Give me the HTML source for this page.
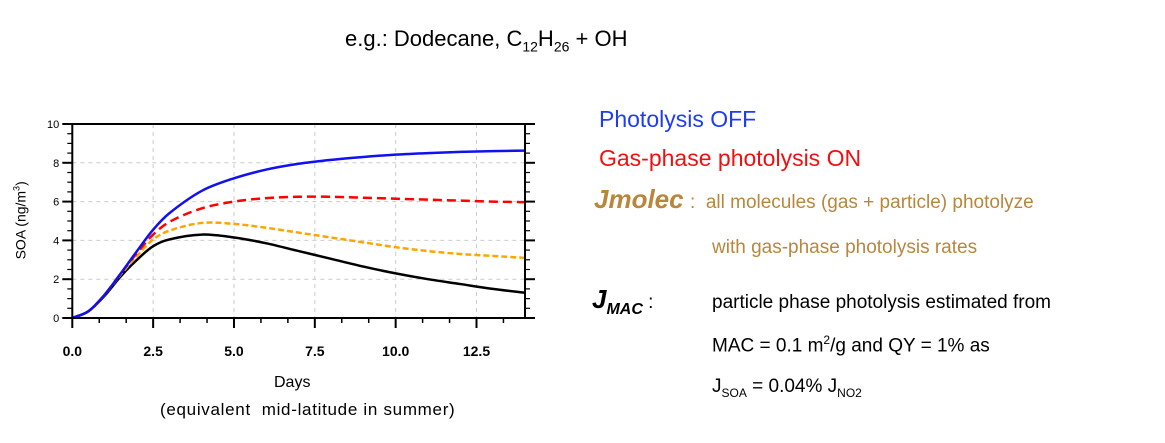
<!DOCTYPE html>
<html><head><meta charset="utf-8"><style>
body{margin:0;background:#fff;width:1165px;height:443px;overflow:hidden;font-family:"Liberation Sans",sans-serif;position:relative}
.t{position:absolute;white-space:nowrap}
</style></head><body>
<div class="t" style="left:345px;top:26px;font-size:22px">e.g.: Dodecane, C<sub style="font-size:14px">12</sub>H<sub style="font-size:14px">26</sub> + OH</div>
<div class="t" style="left:599px;top:106px;font-size:23px;color:#1f3cf5">Photolysis OFF</div>
<div class="t" style="left:599px;top:145px;font-size:23px;color:#f01010">Gas-phase photolysis ON</div>
<div class="t" style="left:594px;top:184px;font-size:26px;color:#b8873c;font-weight:bold;font-style:italic">Jmolec</div>
<div class="t" style="left:690px;top:192px;font-size:19px;color:#b8873c">:&nbsp; all molecules (gas + particle) photolyze</div>
<div class="t" style="left:712px;top:237px;font-size:19px;color:#b8873c">with gas-phase photolysis rates</div>
<div class="t" style="left:592px;top:284px;font-size:26px;font-weight:bold;font-style:italic">J<sub style="font-size:16px">MAC</sub><span style="font-weight:normal;font-style:normal;font-size:19px"> :</span></div>
<div class="t" style="left:712px;top:292px;font-size:19px">particle phase photolysis estimated from</div>
<div class="t" style="left:712px;top:333px;font-size:19px">MAC = 0.1 m<sup style="font-size:12px">2</sup>/g and QY = 1% as</div>
<div class="t" style="left:712px;top:376px;font-size:19px">J<sub style="font-size:12px">SOA</sub> = 0.04% J<sub style="font-size:12px">NO2</sub></div>
<svg id="c" width="1165" height="443" style="position:absolute;left:0;top:0"></svg>
<script>
const days=[0,0.5,1,1.5,2,2.5,3,4,5,6,7,8,9,10,11,12,13,14];
const blueOff=[0,0.35,1.2,2.3,3.45,4.55,5.4,6.55,7.2,7.65,7.95,8.15,8.3,8.42,8.5,8.56,8.6,8.63];
const redGas=[0,0.35,1.2,2.3,3.35,4.3,4.95,5.65,6.0,6.18,6.25,6.25,6.2,6.15,6.1,6.05,6.0,5.97];
const orangeJmolec=[0,0.35,1.2,2.25,3.2,4.05,4.5,4.9,4.85,4.65,4.4,4.15,3.9,3.65,3.45,3.3,3.2,3.1];
const blackJmac=[0,0.35,1.15,2.15,3.0,3.7,4.05,4.3,4.15,3.85,3.45,3.05,2.65,2.3,2.0,1.75,1.5,1.3];
const xTicks=[0,2.5,5,7.5,10,12.5];
const xTickLabels=["0.0","2.5","5.0","7.5","10.0","12.5"];
const yTicks=[0,2,4,6,8,10];
const L=72.3,R=525,T=124,B=318,XMAX=14,YMAX=10;
const X=v=>L+v/XMAX*(R-L), Y=v=>B-v/YMAX*(B-T);
const svg=document.getElementById('c');const NS='http://www.w3.org/2000/svg';
function mk(tag,a,p){const e=document.createElementNS(NS,tag);for(const k in a)e.setAttribute(k,a[k]);(p||svg).appendChild(e);return e;}
xTicks.slice(1).forEach(t=>{const g=mk('line',{x1:X(t),x2:X(t),y1:T,y2:B,stroke:'#ccc','stroke-dasharray':'4,4'});

});
yTicks.slice(1,-1).forEach(t=>{const g=mk('line',{x1:L,x2:R,y1:Y(t),y2:Y(t),stroke:'#ccc','stroke-dasharray':'4,4'});

});
function path(vals){const p=days.map((d,i)=>[X(d),Y(vals[i])]);let s='M'+p[0][0]+','+p[0][1];
for(let i=0;i<p.length-1;i++){const p0=p[i-1]||p[i],p1=p[i],p2=p[i+1],p3=p[i+2]||p2;
const h=p2[0]-p1[0];
const m1=(p2[1]-p0[1])/(p2[0]-p0[0]||1),m2=(p3[1]-p1[1])/(p3[0]-p1[0]||1);
s+=` C${p1[0]+h/3},${p1[1]+m1*h/3} ${p2[0]-h/3},${p2[1]-m2*h/3} ${p2[0]},${p2[1]}`;}return s;}
const series=[[blackJmac,'#000','','line-jmac'],[orangeJmolec,'#ffa500','6,3','line-jmolec'],[redGas,'#f00','9,5','line-gas-phase-on'],[blueOff,'#1010f0','','line-photolysis-off']];
series.forEach(s=>{const e=mk('path',{d:path(s[0]),fill:'none',stroke:s[1],'stroke-width':2.5,'stroke-dasharray':s[2]||'none'});

});
mk('rect',{x:L,y:T,width:R-L,height:B-T,fill:'none',stroke:'#000','stroke-width':2});
for(let v=0;v<=XMAX+0.01;v+=2.5/3){const maj=Math.abs(v/2.5-Math.round(v/2.5))<0.01;mk('line',{x1:X(v),x2:X(v),y1:B,y2:B+(maj?10:5),stroke:'#000','stroke-width':maj?2:1.5});}
for(let v=0;v<=YMAX+0.01;v+=0.5){const maj=Math.abs(v/2-Math.round(v/2))<0.01;
mk('line',{x1:L,x2:L-(maj?10:5),y1:Y(v),y2:Y(v),stroke:'#000','stroke-width':maj?2:1.2});
mk('line',{x1:R,x2:R+(maj?10:5),y1:Y(v),y2:Y(v),stroke:'#000','stroke-width':maj?2:1.2});}
xTicks.forEach((t,i)=>{const e=mk('text',{x:X(t),y:B+38,'text-anchor':'middle','font-size':14,'font-weight':'bold','font-family':'Liberation Sans'});e.textContent=xTickLabels[i];

});
yTicks.forEach(t=>{const e=mk('text',{x:L-13,y:Y(t)+4,'text-anchor':'end','font-size':11,'font-family':'Liberation Sans'});e.textContent=t;

});
</script>
<div class="t" style="left:274px;top:374px;font-size:16px">Days</div>
<div class="t" style="left:160px;top:400px;font-size:17px;letter-spacing:0.7px">(equivalent&nbsp; mid-latitude in summer)</div>
<div class="t" style="left:-25px;top:212px;font-size:14px;transform:rotate(-90deg);transform-origin:center;width:90px;text-align:center">SOA (ng/m<sup style="font-size:9px">3</sup>)</div>
</body></html>
